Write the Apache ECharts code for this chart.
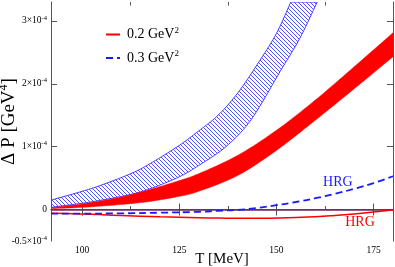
<!DOCTYPE html>
<html>
<head>
<meta charset="utf-8">
<script src="https://cdn.jsdelivr.net/npm/echarts@6/dist/echarts.min.js"></script>
<style>html,body{margin:0;padding:0;background:#fff}#c{width:395px;height:267px}</style>
</head>
<body>
<div id="c"></div>
<script>
// Values of Delta P in units of 1e-4 GeV^4, temperatures in MeV
const blueUpperT = [92, 100, 105, 112.5, 117.5, 125, 130, 135, 140, 145, 150, 153.7];
const blueUpper  = [0.15, 0.29, 0.39, 0.57, 0.73, 1.02, 1.25, 1.5, 1.85, 2.3, 2.8, 3.3];
const blueLowerT = [92, 100, 105, 112.5, 117.5, 125, 130, 137, 143.5, 151, 156, 160.5];
const blueLower  = [0.035, 0.1, 0.15, 0.24, 0.33, 0.52, 0.7, 1.0, 1.43, 2.2, 2.72, 3.3];

const redT     = [92, 100, 110, 117.5, 125, 130, 140, 150, 160, 170, 180];
const redUpper = [0.03, 0.09, 0.2, 0.32, 0.46, 0.57, 0.86, 1.26, 1.74, 2.27, 2.81];
const redLower = [0.015, 0.035, 0.08, 0.13, 0.21, 0.29, 0.54, 0.94, 1.42, 1.92, 2.43];

const hrgT   = [92, 100, 110, 120, 130, 135, 140, 145, 150, 155, 160, 165, 170, 175, 180];
const hrg02  = [-0.06, -0.07, -0.095, -0.115, -0.13, -0.135, -0.14, -0.14, -0.135, -0.127, -0.115, -0.095, -0.07, -0.04, -0.005];
const hrg03  = [-0.065, -0.065, -0.06, -0.05, -0.035, -0.02, -0.005, 0.025, 0.07, 0.12, 0.18, 0.25, 0.33, 0.42, 0.53];

const xMajor = [100, 125, 150, 175];
const xMinor = [112.5, 137.5, 162.5];
const yTicks = [0, 1, 2, 3];
const yLabels = [-0.5, 0, 1, 2, 3];

const FONT = "'Liberation Serif', 'DejaVu Serif', serif";
const AX = '#555';

function hatch() {
  const c = document.createElement('canvas');
  c.width = 4; c.height = 4;
  const g = c.getContext('2d');
  g.strokeStyle = '#3a3aff';
  g.lineWidth = 0.9;
  g.beginPath();
  g.moveTo(-1, -1); g.lineTo(5, 5);
  g.moveTo(-1, 3); g.lineTo(1, 5);
  g.moveTo(3, -1); g.lineTo(5, 1);
  g.stroke();
  return c;
}

// Catmull-Rom curve through pixel points (drawing only)
function spline(p) {
  const out = [];
  const n = p.length;
  for (let i = 0; i < n - 1; i++) {
    const p0 = p[Math.max(0, i - 1)], p1 = p[i], p2 = p[i + 1], p3 = p[Math.min(n - 1, i + 2)];
    for (let k = 0; k < 10; k++) {
      const t = k / 10, t2 = t * t, t3 = t2 * t;
      const f = (a, b, c, d) => 0.5 * ((2 * b) + (-a + c) * t + (2 * a - 5 * b + 4 * c - d) * t2 + (-a + 3 * b - 3 * c + d) * t3);
      out.push([f(p0[0], p1[0], p2[0], p3[0]), f(p0[1], p1[1], p2[1], p3[1])]);
    }
  }
  out.push(p[n - 1]);
  return out;
}

function band(upT, up, loT, lo, style) {
  return function (params, api) {
    const top = upT.map((t, i) => api.coord([t, up[i]]));
    const bot = loT.map((t, i) => api.coord([t, lo[i]]));
    const pts = spline(top).concat(spline(bot).reverse());
    return { type: 'polygon', shape: { points: pts }, style: style };
  };
}

const chart = echarts.init(document.getElementById('c'), null, { renderer: 'canvas' });
const lineStyleAx = { color: AX, width: 1 };
const sup = (fs, pad) => ({ fontSize: fs, fontFamily: FONT, color: '#000', padding: [0, 0, pad, 0] });

const option = {
  animation: false,
  grid: [
    { left: 51, right: 2, top: 2, bottom: 26, outerBoundsMode: 'none', containLabel: false },
    { left: 51, right: 2, top: 2, bottom: 26, outerBoundsMode: 'none', containLabel: false }
  ],
  legend: {
    data: ['0.2 GeV2', '0.3 GeV2'],
    orient: 'vertical',
    left: 100, top: 21,
    itemWidth: 14, itemHeight: 10, itemGap: 8,
    selectedMode: false,
    itemStyle: { opacity: 0 },
    formatter: n => n.replace(/GeV2$/, 'GeV{s|2}'),
    textStyle: { fontFamily: FONT, fontSize: 14, color: '#000', padding: [0, 0, 0, 2], rich: { s: sup(9, 8) } }
  },
  xAxis: [
    {
      type: 'value', gridIndex: 0, min: 92, max: 180, position: 'bottom',
      axisLine: { show: true, lineStyle: lineStyleAx },
      axisTick: { show: true, inside: true, length: 6, customValues: xMajor, lineStyle: lineStyleAx },
      axisLabel: { customValues: xMajor, margin: 4, fontSize: 9.5, fontFamily: FONT, color: '#000' },
      splitLine: { show: false },
      name: 'T [MeV]', nameLocation: 'middle', nameGap: 11, nameMoveOverlap: false,
      nameTextStyle: { fontFamily: FONT, fontSize: 15, color: '#000' }
    },
    {
      type: 'value', gridIndex: 0, min: 92, max: 180, position: 'top',
      axisLine: { show: true, lineStyle: lineStyleAx },
      axisTick: { show: true, inside: true, length: 6, customValues: xMajor, lineStyle: lineStyleAx },
      axisLabel: { show: false }, splitLine: { show: false }
    },
    {
      type: 'value', gridIndex: 1, min: 92, max: 180, position: 'bottom',
      axisLine: { show: false },
      axisTick: { show: true, inside: true, length: 3.5, customValues: xMinor, lineStyle: lineStyleAx },
      axisLabel: { show: false }, splitLine: { show: false }
    },
    {
      type: 'value', gridIndex: 1, min: 92, max: 180, position: 'top',
      axisLine: { show: false },
      axisTick: { show: true, inside: true, length: 3.5, customValues: xMinor, lineStyle: lineStyleAx },
      axisLabel: { show: false }, splitLine: { show: false }
    }
  ],
  yAxis: [
    {
      type: 'value', gridIndex: 0, min: -0.5, max: 3.3, position: 'left',
      axisLine: { show: true, lineStyle: lineStyleAx },
      axisTick: { show: true, inside: true, length: 6, customValues: yTicks, lineStyle: lineStyleAx },
      axisLabel: {
        customValues: yLabels, margin: 4, fontSize: 9.5, fontFamily: FONT, color: '#000',
        formatter: v => v === 0 ? '0' : v + '×10{s|-4}',
        rich: { s: sup(6.5, 6) }
      },
      splitLine: { show: false },
      name: 'Δ P [GeV{s|4}]', nameLocation: 'middle', nameGap: 31, nameMoveOverlap: false,
      nameTextStyle: { fontFamily: FONT, fontSize: 19, color: '#000', rich: { s: sup(12, 10) } }
    },
    {
      type: 'value', gridIndex: 0, min: -0.5, max: 3.3, position: 'right',
      axisLine: { show: true, lineStyle: lineStyleAx },
      axisTick: { show: true, inside: true, length: 6, customValues: yTicks, lineStyle: lineStyleAx },
      axisLabel: { show: false }, splitLine: { show: false }
    },
    { type: 'value', gridIndex: 1, min: -0.5, max: 3.3, show: false }
  ],
  series: [
    {
      type: 'custom', xAxisIndex: 0, yAxisIndex: 0, clip: true, silent: true, z: 2,
      renderItem: band(blueUpperT, blueUpper, blueLowerT, blueLower,
        { fill: { image: hatch(), repeat: 'repeat' }, stroke: '#4040ff', lineWidth: 1 }),
      data: [[92, 0]]
    },
    {
      type: 'custom', xAxisIndex: 0, yAxisIndex: 0, clip: true, silent: true, z: 3,
      renderItem: band(redT, redUpper, redT, redLower, { fill: '#ff0000', stroke: '#ff0000', lineWidth: 0.5 }),
      data: [[92, 0]]
    },
    {
      name: '0.2 GeV2', type: 'line', xAxisIndex: 0, yAxisIndex: 0, z: 5,
      data: hrgT.map((t, i) => [t, hrg02[i]]),
      smooth: true, showSymbol: false, symbol: 'none',
      lineStyle: { color: '#ff0000', width: 1.5 }, itemStyle: { color: '#ff0000' },
      markLine: {
        silent: true, symbol: ['none', 'none'], label: { show: false },
        lineStyle: { color: '#6e2a5e', width: 1.5, type: 'solid' },
        data: [{ yAxis: 0 }]
      },
      markPoint: {
        symbol: 'circle', symbolSize: 0, silent: true,
        label: { show: true, position: 'inside', formatter: 'HRG', color: '#ff0000', fontFamily: FONT, fontSize: 14 },
        data: [{ coord: [171.5, -0.206] }]
      }
    },
    {
      name: '0.3 GeV2', type: 'line', xAxisIndex: 0, yAxisIndex: 0, z: 6,
      data: hrgT.map((t, i) => [t, hrg03[i]]),
      smooth: true, showSymbol: false, symbol: 'none',
      lineStyle: { color: '#1a1aff', width: 1.8, type: [7, 4] }, itemStyle: { color: '#1a1aff' },
      markPoint: {
        symbol: 'circle', symbolSize: 0, silent: true,
        label: { show: true, position: 'inside', formatter: 'HRG', color: '#1a1aff', fontFamily: FONT, fontSize: 14 },
        data: [{ coord: [165.8, 0.435] }]
      }
    }
  ]
};
chart.setOption(option);
</script>
</body>
</html>
